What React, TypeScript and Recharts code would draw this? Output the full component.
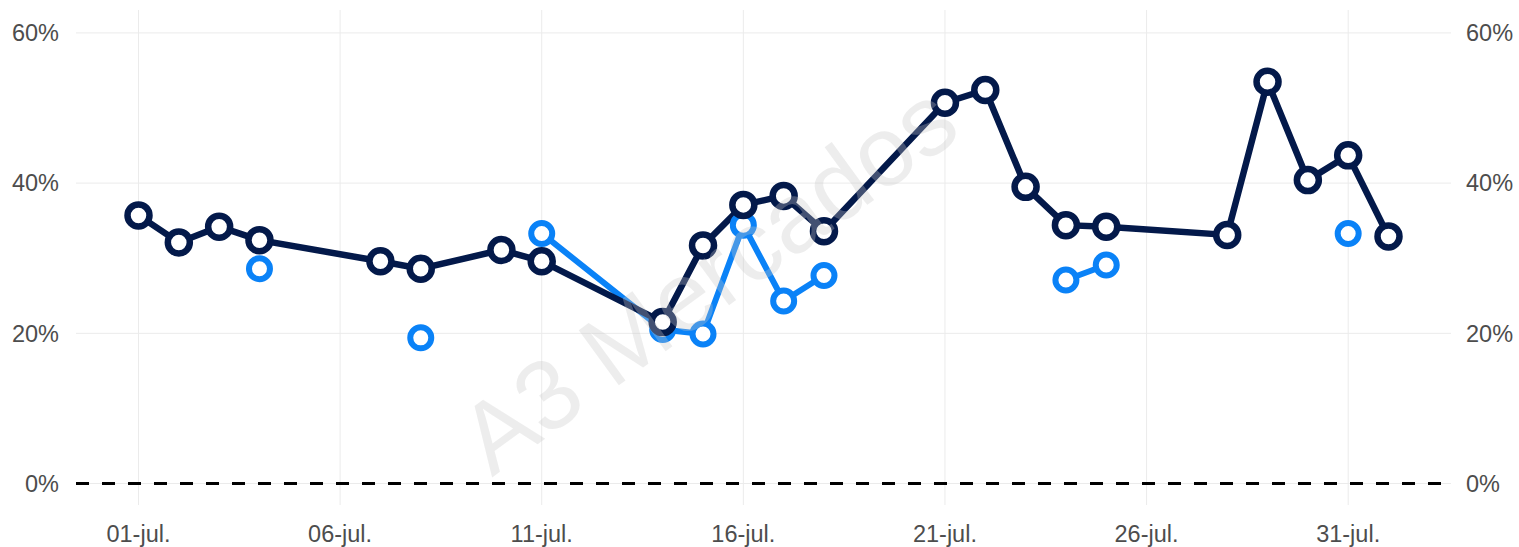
import React from 'react';
import { LineChart, Line, XAxis, YAxis, CartesianGrid, ReferenceLine } from 'recharts';

// Day of July (32 = 01-aug)
const darkDays = [1, 2, 3, 4, 7, 8, 10, 11, 14, 15, 16, 17, 18, 21, 22, 23, 24, 25, 28, 29, 30, 31, 32];
const darkValues = [35.7, 32.1, 34.2, 32.4, 29.6, 28.6, 31.1, 29.6, 21.5, 31.7, 37.1, 38.3, 33.6, 50.7, 52.4, 39.5, 34.4, 34.2, 33.1, 53.5, 40.4, 43.7, 32.9];

// null entries break the line
const lightDays = [4, 6, 8, 9.5, 11, 14, 15, 16, 17, 18, 21, 24, 25, 28, 31];
const lightValues: (number | null)[] = [28.6, null, 19.4, null, 33.3, 20.5, 19.9, 34.4, 24.3, 27.7, null, 27.1, 29.1, null, 33.3];

const xTicks = [1, 6, 11, 16, 21, 26, 31];
const xTickLabels = ['01-jul.', '06-jul.', '11-jul.', '16-jul.', '21-jul.', '26-jul.', '31-jul.'];
const yTicks = [0, 20, 40, 60];

const darkData = darkDays.map((d, i) => ({ day: d, value: darkValues[i] }));
const lightData = lightDays.map((d, i) => ({ day: d, value: lightValues[i] }));

const NAVY = '#03194a';
const BLUE = '#0a82f7';
const FONT = '"Liberation Sans", Arial, sans-serif';

const fmtX = (v: number) => {
  const i = xTicks.indexOf(v);
  return i >= 0 ? xTickLabels[i] : '';
};
const fmtY = (v: number) => `${v}%`;

const tickStyle = { fill: '#4d4d4d', fontSize: 23.5, fontFamily: FONT };

export default function App() {
  return (
    <div style={{ position: 'absolute', left: 0, top: 0, width: 1519, height: 547, background: '#fff' }}>
      <LineChart
        width={1519}
        height={547}
        margin={{ top: 10, right: 10, bottom: 10, left: 10 }}
      >
        <CartesianGrid
          stroke="#ebebeb"
          strokeWidth={1}
          yAxisId="left"
          syncWithTicks
          horizontalValues={yTicks}
          verticalValues={xTicks}
        />
        <XAxis
          dataKey="day"
          type="number"
          domain={[-0.55, 33.55]}
          allowDataOverflow
          ticks={xTicks}
          tickFormatter={fmtX}
          axisLine={false}
          tickLine={false}
          tickMargin={14}
          height={32}
          tick={tickStyle}
          interval={0}
        />
        <YAxis
          yAxisId="left"
          orientation="left"
          type="number"
          domain={[-2.86, 63.05]}
          allowDataOverflow
          ticks={yTicks}
          tickFormatter={fmtY}
          axisLine={false}
          tickLine={false}
          tickMargin={11}
          width={66}
          tick={tickStyle}
        />
        <YAxis
          yAxisId="right"
          orientation="right"
          type="number"
          domain={[-2.86, 63.05]}
          allowDataOverflow
          ticks={yTicks}
          tickFormatter={fmtY}
          axisLine={false}
          tickLine={false}
          tickMargin={9}
          width={58}
          tick={tickStyle}
        />
        <ReferenceLine yAxisId="left" y={0} stroke="#000" strokeWidth={3} strokeDasharray="13 13" />
        <Line
          yAxisId="left"
          data={lightData}
          dataKey="value"
          stroke={BLUE}
          strokeWidth={6}
          connectNulls={false}
          dot={{ r: 10.5, stroke: BLUE, strokeWidth: 6, fill: '#fff' }}
          activeDot={false}
          isAnimationActive={false}
        />
        <Line
          yAxisId="left"
          data={darkData}
          dataKey="value"
          stroke={NAVY}
          strokeWidth={6.5}
          dot={{ r: 11, stroke: NAVY, strokeWidth: 6.5, fill: '#fff' }}
          activeDot={false}
          isAnimationActive={false}
        />
      </LineChart>
      <svg
        width={1519}
        height={547}
        style={{ position: 'absolute', left: 0, top: 0, pointerEvents: 'none' }}
      >
        <text
          x={728}
          y={306}
          textAnchor="middle"
          fontFamily={FONT}
          fontSize={99}
          fill="#c8c8c8"
          fillOpacity={0.32}
          transform="rotate(-36, 728, 306)"
        >
          A3 Mercados
        </text>
      </svg>
    </div>
  );
}
